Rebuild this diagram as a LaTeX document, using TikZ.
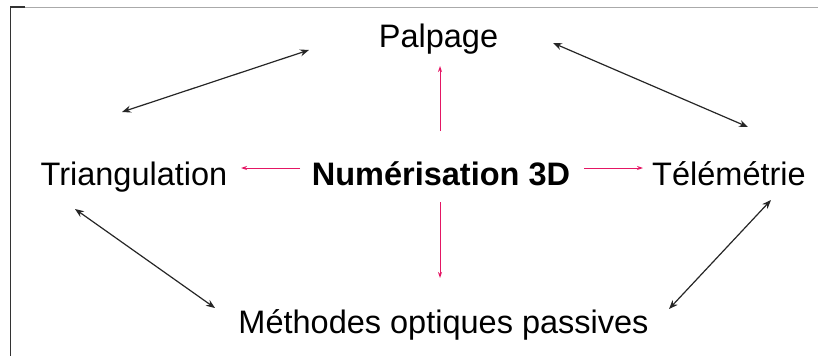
\documentclass[tikz,border=0pt]{standalone}
\usepackage{fontspec}
\setmainfont{Liberation Sans}
\usetikzlibrary{arrows.meta}
\definecolor{linkred}{RGB}{228,22,100}
\definecolor{framegray}{RGB}{170,170,170}
\tikzset{
  lbl/.style={inner sep=0pt, anchor=base, font=\fontsize{32.5}{38}\selectfont},
  blbl/.style={lbl, font=\fontsize{32.5}{38}\selectfont\bfseries},
  redarrow/.style={draw=linkred, line width=1pt, -{Stealth[length=6pt,width=4pt]}},
  blackarrow/.style={draw=black!85, line width=1.2pt, {Stealth[length=9pt,width=7pt]}-{Stealth[length=9pt,width=7pt]}}
}
\begin{document}
\begin{tikzpicture}[x=1pt,y=-1pt]
\useasboundingbox (0,0) rectangle (822,356);
% frame
\draw[framegray, line width=1pt] (10,7) -- (818,7);
\draw[black!80, line width=1.2pt] (25,7) -- (10.5,7) -- (10.5,356);
% labels
\node[lbl]  (palpage) at (438.5,47)  {Palpage};
\node[lbl]  (tri)     at (134,185)   {Triangulation};
\node[blbl] (num)     at (441,185)   {Numérisation 3D};
\node[lbl]  (tele)    at (729,185)   {Télémétrie};
\node[lbl]  (meth)    at (443.5,333) {Méthodes optiques passives};
% red arrow ends
\coordinate (upA) at (440,131);
\coordinate (upB) at (440,66);
\coordinate (leA) at (300,168);
\coordinate (leB) at (241,168);
\coordinate (riA) at (584,168);
\coordinate (riB) at (643,168);
\coordinate (dnA) at (440,202);
\coordinate (dnB) at (440,278);
\draw[redarrow] (upA) -- (upB);
\draw[redarrow] (leA) -- (leB);
\draw[redarrow] (riA) -- (riB);
\draw[redarrow] (dnA) -- (dnB);
% black double arrows
\coordinate (tlA) at (122,112);
\coordinate (tlB) at (309,50);
\coordinate (trA) at (553,43);
\coordinate (trB) at (748,127);
\coordinate (blA) at (75,209);
\coordinate (blB) at (215,308);
\coordinate (brA) at (771,200);
\coordinate (brB) at (669,309);
\draw[blackarrow] (tlA) -- (tlB);
\draw[blackarrow] (trA) -- (trB);
\draw[blackarrow] (blA) -- (blB);
\draw[blackarrow] (brA) -- (brB);
\end{tikzpicture}
\end{document}
